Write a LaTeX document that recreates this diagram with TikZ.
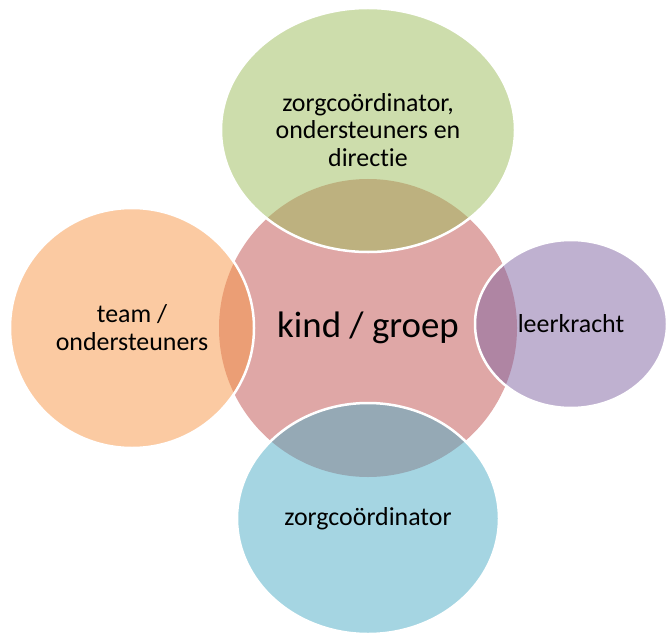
\documentclass[tikz,border=0pt]{standalone}
\usepackage{fontspec}
\setmainfont{Carlito}[Ligatures={NoCommon,NoRare,NoContextual}]
\usetikzlibrary{shapes.geometric}
\definecolor{cpink}{HTML}{C0504D}
\definecolor{cgreen}{HTML}{9BBB59}
\definecolor{corange}{HTML}{F79646}
\definecolor{cpurple}{HTML}{8064A2}
\definecolor{cblue}{HTML}{4BACC6}
\tikzset{
  blob/.style={ellipse, inner sep=0pt, outer sep=0pt, align=center,
    fill opacity=0.5, text opacity=1, text=black},
  outer/.style={blob, draw=white, draw opacity=1, line width=2.5bp,
    font=\fontsize{26}{28}\selectfont},
}
\begin{document}
\begin{tikzpicture}[x=1bp,y=-1bp]
\useasboundingbox (0,0) rectangle (667,635);
\node[blob, fill=cpink, minimum width=298bp, minimum height=298bp,
  font=\fontsize{37}{40}\selectfont] (kind) at (368,328) {kind / groep};
\node[outer, fill=cgreen, minimum width=294bp, minimum height=244bp]
  (zorgdir) at (368,130) {zorgcoördinator,\\ondersteuners en\\directie};
\node[outer, fill=corange, minimum width=244bp, minimum height=240bp]
  (team) at (132,328) {team /\\ondersteuners};
\node[outer, fill=cpurple, minimum width=192bp, minimum height=168bp]
  (leer) at (571,324) {leerkracht};
\node[outer, fill=cblue, minimum width=262bp, minimum height=231bp]
  (zorg) at (368,518.5) {zorgcoördinator};
\end{tikzpicture}
\end{document}
